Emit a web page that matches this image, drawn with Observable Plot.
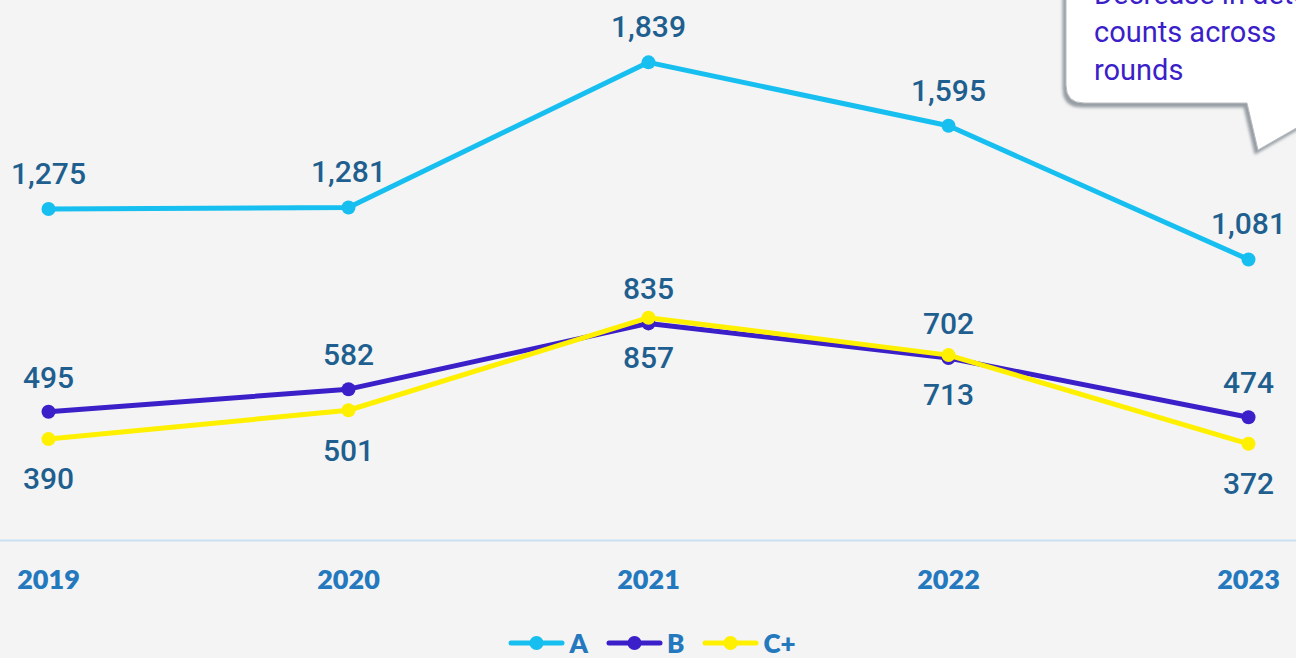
<!DOCTYPE html>
<html>
<head>
<meta charset="utf-8">
<script src="https://cdn.jsdelivr.net/npm/d3@7"></script>
<script src="https://cdn.jsdelivr.net/npm/@observablehq/plot@0.6"></script>
<style>
  html, body { margin: 0; padding: 0; background: #f4f4f4; width: 1296px; height: 658px; overflow: hidden; position: relative; }
  #chart svg { display: block; background: #f4f4f4; }
  #legend { height: 38px; display: flex; justify-content: center; align-items: center; gap: 0; font-family: Lato, "Open Sans", sans-serif; font-weight: 800; font-size: 26px; color: #2478bd; padding-left: 8px; box-sizing: border-box; }
  .item { display: flex; align-items: center; margin: 0 9px; position: relative; top: 4px; }
  .item svg { margin-right: 4px; }
  #callout { position: absolute; left: 0; top: 0; pointer-events: none; }
</style>
</head>
<body>
<div id="chart"></div>
<div id="legend"></div>
<svg id="callout" width="1296" height="658"></svg>
<script>
const years = ["2019", "2020", "2021", "2022", "2023"];
const seriesNames = ["A", "B", "C+"];
const valuesA = [1275, 1281, 1839, 1595, 1081];
const valuesB = [495, 582, 835, 702, 474];
const valuesC = [390, 501, 857, 713, 372];
const colors = {"A": "#16bfef", "B": "#3b1fc8", "C+": "#fff000"};
const calloutLines = ["Decrease in detection", "counts across", "rounds"];

const rows = [];
[[seriesNames[0], valuesA], [seriesNames[1], valuesB], [seriesNames[2], valuesC]].forEach(([s, vals]) => {
  vals.forEach((v, i) => rows.push({series: s, year: years[i], value: v}));
});
const rA = rows.filter(d => d.series === "A");
const rB = rows.filter(d => d.series === "B");
const rC = rows.filter(d => d.series === "C+");

const labelFont = {fontFamily: "Roboto, sans-serif", fontSize: 30, fontWeight: 500, fill: "#1f5f8f"};
const fmt = d3.format(",");

const chart = Plot.plot({
  width: 1296,
  height: 620,
  marginLeft: 47,
  marginRight: 48,
  marginTop: 20,
  marginBottom: 80,
  style: {background: "#f4f4f4"},
  x: {type: "point", domain: years, padding: 0, label: null},
  y: {domain: [0, 2000], axis: null},
  marks: [
    Plot.ruleY([0], {stroke: "#c9dff2", strokeWidth: 2, insetLeft: -47, insetRight: -48}),
    Plot.axisX({tickSize: 0, tickPadding: 29, fontSize: 27, fontWeight: 800, fontFamily: "Lato, 'Open Sans', sans-serif", color: "#2478bd", label: null}),
    Plot.line(rA, {x: "year", y: "value", stroke: colors["A"], strokeWidth: 5}),
    Plot.dot(rA, {x: "year", y: "value", fill: colors["A"], r: 7}),
    Plot.line(rB, {x: "year", y: "value", stroke: colors["B"], strokeWidth: 5}),
    Plot.dot(rB, {x: "year", y: "value", fill: colors["B"], r: 7}),
    Plot.line(rC, {x: "year", y: "value", stroke: colors["C+"], strokeWidth: 5}),
    Plot.dot(rC, {x: "year", y: "value", fill: colors["C+"], r: 7}),
    Plot.text(rA, {x: "year", y: "value", text: d => fmt(d.value), lineAnchor: "bottom", dy: -25, ...labelFont}),
    Plot.text(rB, {x: "year", y: "value", text: d => fmt(d.value), lineAnchor: "bottom", dy: -24, ...labelFont}),
    Plot.text(rC, {x: "year", y: "value", text: d => fmt(d.value), lineAnchor: "top", dy: 29, ...labelFont})
  ]
});
document.getElementById("chart").appendChild(chart);

// legend
const legend = document.getElementById("legend");
seriesNames.forEach(s => {
  const item = document.createElement("div");
  item.className = "item";
  item.innerHTML = `<svg width="57" height="16"><line x1="3" y1="8" x2="54" y2="8" stroke="${colors[s]}" stroke-width="5" stroke-linecap="round"/><circle cx="28.5" cy="8" r="7" fill="${colors[s]}"/></svg><span>${s}</span>`;
  legend.appendChild(item);
});

// callout annotation
const co = d3.select("#callout");
const defs = co.append("defs");
const f = defs.append("filter").attr("id", "sh").attr("x", "-20%").attr("y", "-20%").attr("width", "140%").attr("height", "160%");
f.append("feDropShadow").attr("dx", -3).attr("dy", 4).attr("stdDeviation", 1.5).attr("flood-color", "#7f8790").attr("flood-opacity", 0.8);
co.append("path")
  .attr("d", "M1066,-20 L1066,85 Q1066,103 1084,103 L1247,103 L1258,150 L1340,103 L1340,-20 Z")
  .attr("fill", "#ffffff")
  .attr("stroke", "#b8bcc0")
  .attr("stroke-width", 1)
  .attr("filter", "url(#sh)");
calloutLines.forEach((t, i) => {
  co.append("text").attr("x", 1094).attr("y", 4 + i * 38)
    .attr("font-family", "Roboto, sans-serif").attr("font-size", 29).attr("fill", "#3b1fc8").text(t);
});
</script>
</body>
</html>
